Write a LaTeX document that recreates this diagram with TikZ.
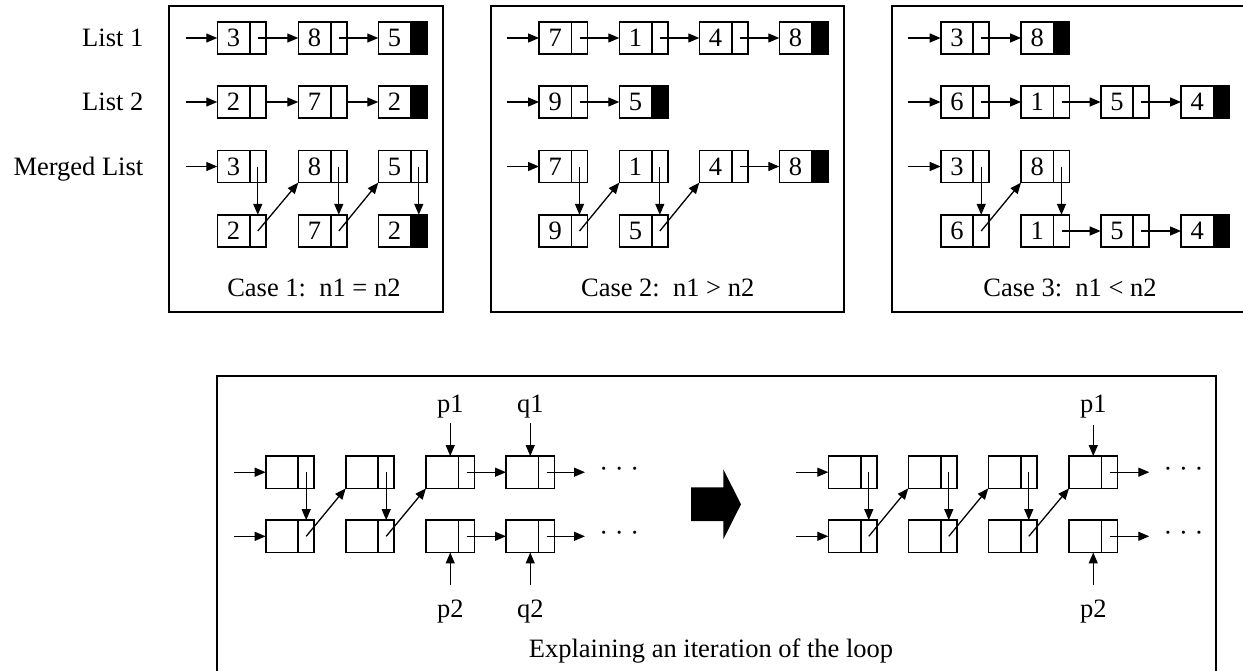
\documentclass[tikz,border=0pt]{standalone}
\usepackage{fontspec}
\setmainfont{Liberation Serif}
\usetikzlibrary{arrows.meta}
\tikzset{
  lw/.style={line width=1.6pt},
  txt/.style={font=\fontsize{26.5}{31}\selectfont, inner sep=0pt, outer sep=0pt},
  datab/.style={draw, lw, txt, minimum width=32.5pt, minimum height=32.3pt, anchor=west},
  ptrb/.style={draw, lw, minimum width=16pt, minimum height=32.3pt, inner sep=0pt, outer sep=0pt, anchor=west},
  conn/.style={line width=1.3pt, -{Triangle[length=11pt,width=9pt]}},
  frame/.style={draw, line width=1.7pt},
}
\newcommand{\lnode}[5]{%
  \node[datab] (#1) at (#2,#3) {#4};
  \node[ptrb, fill=#5] (#1p) at (#1.east) {};
}
\begin{document}
\begin{tikzpicture}[x=1pt,y=-1pt]
\useasboundingbox (0,0) rectangle (1243,670);
\clip (0,0) rectangle (1243,670);

% frames
\draw[frame] (169,6) rectangle (443,312);
\draw[frame] (490.7,6) rectangle (844,312);
\draw[frame] (892.3,6) rectangle (1270,311.7);
\draw[frame] (217.3,376) rectangle (1216.2,700);

% row labels
\node[txt, anchor=base east] (l1) at (143.3,46.7) {List 1};
\node[txt, anchor=base east] (l2) at (143.3,110.7) {List 2};
\node[txt, anchor=base east] (l3) at (143.3,175) {Merged List};

% ---------- Case 1 ----------
\lnode{c1a1}{217.3}{38}{3}{white}
\lnode{c1a2}{298.3}{38}{8}{white}
\lnode{c1a3}{378.3}{38}{5}{black}
\lnode{c1b1}{217.3}{102}{2}{white}
\lnode{c1b2}{298.3}{102}{7}{white}
\lnode{c1b3}{378.3}{102}{2}{black}
\lnode{c1c1}{217.3}{166.5}{3}{white}
\lnode{c1c2}{298.3}{166.5}{8}{white}
\lnode{c1c3}{378.3}{166.5}{5}{white}
\lnode{c1d1}{217.3}{231}{2}{white}
\lnode{c1d2}{298.3}{231}{7}{white}
\lnode{c1d3}{378.3}{231}{2}{black}
\coordinate (c1ea) at (186,38);
\coordinate (c1eb) at (186,102);
\coordinate (c1ec) at (186,166.5);
\draw[conn] (c1ea) -- (c1a1.west);
\draw[conn] (c1eb) -- (c1b1.west);
\draw[conn] (c1ec) -- (c1c1.west);
\draw[conn] (c1a1p.center) -- (c1a2.west);
\draw[conn] (c1a2p.center) -- (c1a3.west);
\draw[conn] (c1b1p.east) -- (c1b2.west);
\draw[conn] (c1b2p.east) -- (c1b3.west);
\draw[conn] (c1c1p.center) -- (c1d1p.north);
\draw[conn] (c1d1p.center) -- (c1c2.south west);
\draw[conn] (c1c2p.center) -- (c1d2p.north);
\draw[conn] (c1d2p.center) -- (c1c3.south west);
\draw[conn] (c1c3p.center) -- (c1d3p.north);
\node[txt, anchor=base] (cap1) at (313.9,296.7) {Case 1:\ \ n1 = n2};

% ---------- Case 2 ----------
\lnode{c2a1}{539}{38}{7}{white}
\lnode{c2a2}{619.3}{38}{1}{white}
\lnode{c2a3}{699.3}{38}{4}{white}
\lnode{c2a4}{779.3}{38}{8}{black}
\lnode{c2b1}{539}{102}{9}{white}
\lnode{c2b2}{619.3}{102}{5}{black}
\lnode{c2c1}{539}{166.5}{7}{white}
\lnode{c2c2}{619.3}{166.5}{1}{white}
\lnode{c2c3}{699.3}{166.5}{4}{white}
\lnode{c2c4}{779.3}{166.5}{8}{black}
\lnode{c2d1}{539}{231}{9}{white}
\lnode{c2d2}{619.3}{231}{5}{white}
\coordinate (c2ea) at (506.7,38);
\coordinate (c2eb) at (506.7,102);
\coordinate (c2ec) at (506.7,166.5);
\draw[conn] (c2ea) -- (c2a1.west);
\draw[conn] (c2eb) -- (c2b1.west);
\draw[conn] (c2ec) -- (c2c1.west);
\draw[conn] (c2a1p.center) -- (c2a2.west);
\draw[conn] (c2a2p.center) -- (c2a3.west);
\draw[conn] (c2a3p.center) -- (c2a4.west);
\draw[conn] (c2b1p.center) -- (c2b2.west);
\draw[conn] (c2c1p.center) -- (c2d1p.north);
\draw[conn] (c2d1p.center) -- (c2c2.south west);
\draw[conn] (c2c2p.center) -- (c2d2p.north);
\draw[conn] (c2d2p.center) -- (c2c3.south west);
\draw[conn] (c2c3p.center) -- (c2c4.west);
\node[txt, anchor=base] (cap2) at (667.7,296.7) {Case 2:\ \ n1 > n2};

% ---------- Case 3 ----------
\lnode{c3a1}{940.7}{38}{3}{white}
\lnode{c3a2}{1021}{38}{8}{black}
\lnode{c3b1}{940.7}{102}{6}{white}
\lnode{c3b2}{1021}{102}{1}{white}
\lnode{c3b3}{1100.7}{102}{5}{white}
\lnode{c3b4}{1181}{102}{4}{black}
\lnode{c3c1}{940.7}{166.5}{3}{white}
\lnode{c3c2}{1021}{166.5}{8}{white}
\lnode{c3d1}{940.7}{231}{6}{white}
\lnode{c3d2}{1021}{231}{1}{white}
\lnode{c3d3}{1100.7}{231}{5}{white}
\lnode{c3d4}{1181}{231}{4}{black}
\coordinate (c3ea) at (908.3,38);
\coordinate (c3eb) at (908.3,102);
\coordinate (c3ec) at (908.3,166.5);
\draw[conn] (c3ea) -- (c3a1.west);
\draw[conn] (c3eb) -- (c3b1.west);
\draw[conn] (c3ec) -- (c3c1.west);
\draw[conn] (c3a1p.center) -- (c3a2.west);
\draw[conn] (c3b1p.center) -- (c3b2.west);
\draw[conn] (c3b2p.center) -- (c3b3.west);
\draw[conn] (c3b3p.center) -- (c3b4.west);
\draw[conn] (c3c1p.center) -- (c3d1p.north);
\draw[conn] (c3d1p.center) -- (c3c2.south west);
\draw[conn] (c3c2p.center) -- (c3d2p.north);
\draw[conn] (c3d2p.center) -- (c3d3.west);
\draw[conn] (c3d3p.center) -- (c3d4.west);
\node[txt, anchor=base] (cap3) at (1070,296.7) {Case 3:\ \ n1 < n2};

% ---------- Bottom left ----------
\lnode{Lr1}{265.7}{472.2}{}{white}
\lnode{Lr2}{345.7}{472.2}{}{white}
\lnode{Lr3}{426}{472.2}{}{white}
\lnode{Lr4}{506}{472.2}{}{white}
\lnode{Ls1}{265.7}{536.3}{}{white}
\lnode{Ls2}{345.7}{536.3}{}{white}
\lnode{Ls3}{426}{536.3}{}{white}
\lnode{Ls4}{506}{536.3}{}{white}
\coordinate (Ler) at (234,472.2);
\coordinate (Les) at (234,536.3);
\coordinate (Lxr) at (585,472.2);
\coordinate (Lxs) at (585,536.3);
\draw[conn] (Ler) -- (Lr1.west);
\draw[conn] (Les) -- (Ls1.west);
\draw[conn] (Lr1p.center) -- (Ls1p.north);
\draw[conn] (Ls1p.center) -- (Lr2.south west);
\draw[conn] (Lr2p.center) -- (Ls2p.north);
\draw[conn] (Ls2p.center) -- (Lr3.south west);
\draw[conn] (Lr3p.center) -- (Lr4.west);
\draw[conn] (Lr4p.center) -- (Lxr);
\draw[conn] (Ls3p.center) -- (Ls4.west);
\draw[conn] (Ls4p.center) -- (Lxs);
\node[txt, anchor=base] (Ldr) at (619.3,477.5) {· · ·};
\node[txt, anchor=base] (Lds) at (619.3,541.6) {· · ·};
\node[txt, anchor=base] (Lp1) at (450.25,412.5) {p1};
\node[txt, anchor=base] (Lq1) at (530.25,412.5) {q1};
\node[txt, anchor=base] (Lp2) at (450.25,617) {p2};
\node[txt, anchor=base] (Lq2) at (530.25,617) {q2};
\coordinate (Lp1a) at (450.25,423);
\coordinate (Lq1a) at (530.25,423);
\coordinate (Lp2a) at (450.25,585);
\coordinate (Lq2a) at (530.25,585);
\draw[conn] (Lp1a) -- (Lp1a |- Lr3.north);
\draw[conn] (Lq1a) -- (Lq1a |- Lr4.north);
\draw[conn] (Lp2a) -- (Lp2a |- Ls3.south);
\draw[conn] (Lq2a) -- (Lq2a |- Ls4.south);

% big arrow
\fill (691,487.3) -- (723.3,487.3) -- (723.3,469.3) -- (741,504.3)
  -- (723.3,539.3) -- (723.3,521) -- (691,521) -- cycle;

% ---------- Bottom right ----------
\lnode{Rr1}{828.3}{472.2}{}{white}
\lnode{Rr2}{908.3}{472.2}{}{white}
\lnode{Rr3}{988.3}{472.2}{}{white}
\lnode{Rr4}{1069}{472.2}{}{white}
\lnode{Rs1}{828.3}{536.3}{}{white}
\lnode{Rs2}{908.3}{536.3}{}{white}
\lnode{Rs3}{988.3}{536.3}{}{white}
\lnode{Rs4}{1069}{536.3}{}{white}
\coordinate (Rer) at (796,472.2);
\coordinate (Res) at (796,536.3);
\coordinate (Rxr) at (1149.3,472.2);
\coordinate (Rxs) at (1149.3,536.3);
\draw[conn] (Rer) -- (Rr1.west);
\draw[conn] (Res) -- (Rs1.west);
\draw[conn] (Rr1p.center) -- (Rs1p.north);
\draw[conn] (Rs1p.center) -- (Rr2.south west);
\draw[conn] (Rr2p.center) -- (Rs2p.north);
\draw[conn] (Rs2p.center) -- (Rr3.south west);
\draw[conn] (Rr3p.center) -- (Rs3p.north);
\draw[conn] (Rs3p.center) -- (Rr4.south west);
\draw[conn] (Rr4p.center) -- (Rxr);
\draw[conn] (Rs4p.center) -- (Rxs);
\node[txt, anchor=base] (Rdr) at (1183.5,477.5) {· · ·};
\node[txt, anchor=base] (Rds) at (1183.5,541.6) {· · ·};
\node[txt, anchor=base] (Rp1) at (1093.25,412.5) {p1};
\node[txt, anchor=base] (Rp2) at (1093.25,617) {p2};
\coordinate (Rp1a) at (1093.25,425);
\coordinate (Rp2a) at (1093.25,585);
\draw[conn] (Rp1a) -- (Rp1a |- Rr4.north);
\draw[conn] (Rp2a) -- (Rp2a |- Rs4.south);

\node[txt, anchor=base] (capB) at (711,657.7) {Explaining an iteration of the loop};
\end{tikzpicture}
\end{document}
